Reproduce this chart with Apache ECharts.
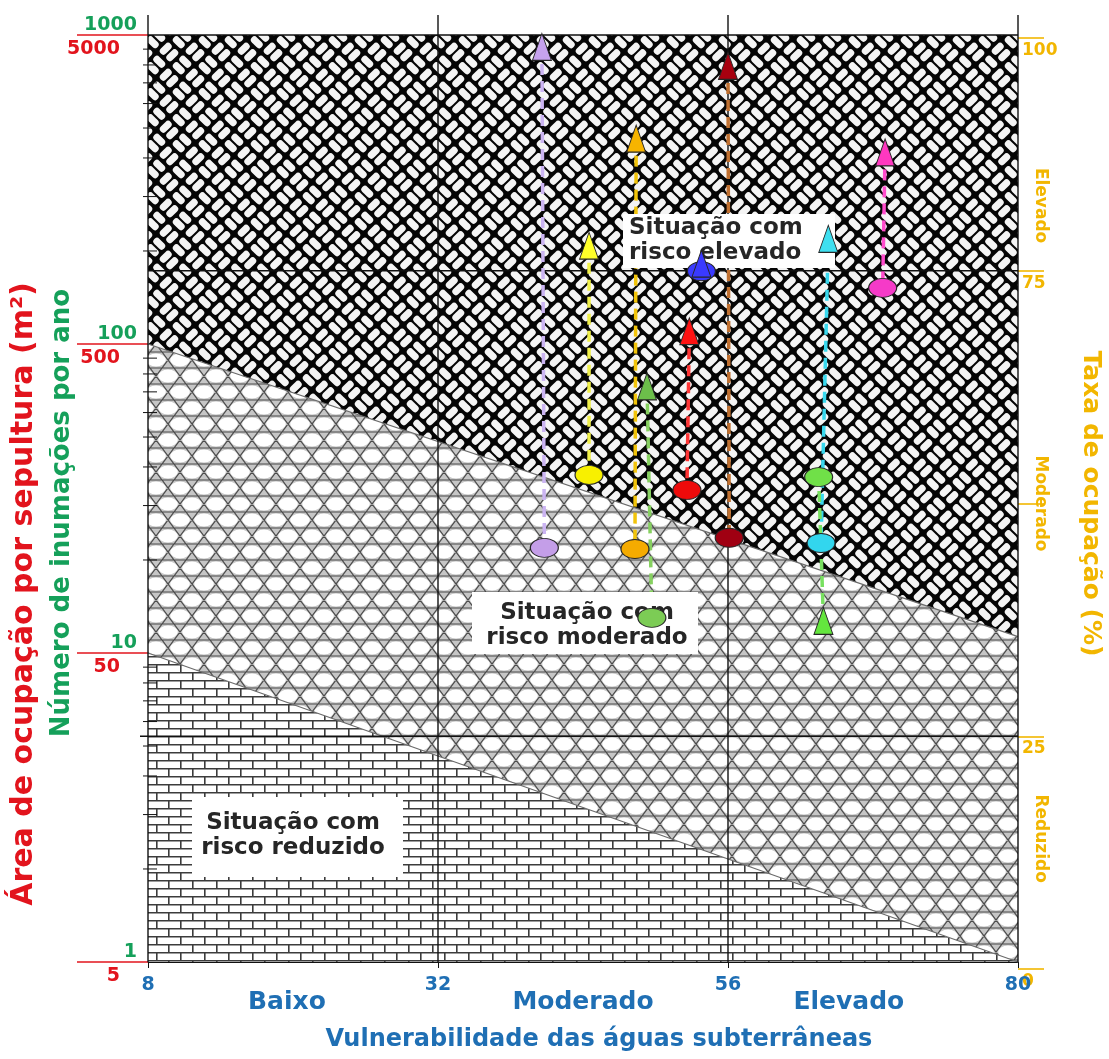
<!DOCTYPE html>
<html lang="pt">
<head>
<meta charset="utf-8">
<title>Risco de contaminação das águas subterrâneas</title>
<script src="https://cdn.jsdelivr.net/npm/echarts@6.0.0/dist/echarts.min.js"></script>
<style>
  html, body { margin: 0; padding: 0; background: #ffffff; }
  #chart { width: 1109px; height: 1059px; }
</style>
</head>
<body>
<div id="chart"></div>
<script>
// ---- Axes -------------------------------------------------------------
const vulnTicks = [8, 32, 56, 80];
const vulnClassNames = ['Baixo', 'Moderado', 'Elevado'];
const vulnClassPos = [19.5, 44, 66];

const inumacoesTicks = [1, 10, 100, 1000];
const areaTicks = [5, 50, 500, 5000];
const minorSteps = [2, 3, 4, 5, 6, 7, 8, 9];

const taxaTicks = [0, 25, 50, 75, 100];
const taxaLabelValues = [0, 25, 75, 100];
const taxaClassNames = ['Reduzido', 'Moderado', 'Elevado'];
const taxaClassPos = [14, 50, 82];
const taxaLimits = [25, 75];

// ---- Risk zone limits (value at vulnerability 8 and at 80) ------------
const upperLimit = [100, 11.3];
const lowerLimit = [10, 1];

// ---- Cemeteries: triangle / ellipse pairs -----------------------------
const triangleX = [40.6, 44.5, 48.4, 49.3, 52.8, 53.8, 56.0, 64.3, 63.9, 69.0];
const triangleY = [915, 208, 462, 72.9, 110, 182, 794, 219, 12.7, 417];
const ellipseX  = [40.8, 44.5, 48.3, 49.7, 52.6, 53.8, 56.1, 63.7, 63.5, 68.8];
const ellipseY  = [21.9, 37.7, 21.7, 13.0, 33.7, 172, 23.6, 22.7, 37.1, 152];

const triangleColors = ['#c6a2ee', '#ffff2a', '#f7b400', '#6cbf4a', '#ff1212', '#3a3aff', '#a8000f', '#3edff0', '#64e63e', '#ff38c0'];
const ellipseColors  = ['#c49ee8', '#f8f000', '#f5ab00', '#7ccc55', '#ee0a0a', '#3a3aff', '#a00012', '#32d6ee', '#70e048', '#f53ac8'];
const linkColors     = ['#cbb4f2', '#f0f04a', '#f2c40a', '#86d060', '#ff3535', '#3a3aff', '#c07030', '#38d8ee', '#78e060', '#ff4ccc'];

// ---- Colours / fonts --------------------------------------------------
const blue = '#1f6fb4', red = '#e2141d', green = '#15a05a', gold = '#f2b600';
const fontFamily = '"DejaVu Sans", Verdana, sans-serif';

// ---- Fill textures ----------------------------------------------------
function tile(w, h, paint) {
  const c = document.createElement('canvas');
  c.width = w; c.height = h;
  paint(c.getContext('2d'), w, h);
  return c;
}

// basket weave (high risk)
const weaveTile = tile(52, 52, (ctx, w, h) => {
  ctx.fillStyle = '#050505';
  ctx.fillRect(0, 0, w, h);
  ctx.save();
  ctx.rotate(Math.PI / 4);
  const P = 13 * Math.SQRT2;
  const t = P / 2 - 2.0, L = P - 4.6;
  ctx.fillStyle = '#f4f4f4';
  for (let i = -4; i <= 8; i++) {
    for (let j = -6; j <= 6; j++) {
      const u = i * P, v = j * P;
      const along = ((i + j) % 2 + 2) % 2 === 0;
      for (let k = 0; k < 2; k++) {
        ctx.beginPath();
        if (along) ctx.roundRect(u + 2.3, v + 1.0 + k * P / 2, L, t, t / 2);
        else ctx.roundRect(u + 1.0 + k * P / 2, v + 2.3, t, L, t / 2);
        ctx.fill();
      }
    }
  }
  ctx.restore();
});

// hexagonal mesh of rounded cells (moderate risk)
const meshTile = tile(24, 32, (ctx, w, h) => {
  ctx.fillStyle = '#c6c6c6';
  ctx.fillRect(0, 0, w, h);
  ctx.fillStyle = '#ffffff';
  [[12, 8], [0, 24], [24, 24]].forEach(([cx, cy]) => {
    ctx.beginPath();
    ctx.ellipse(cx, cy, 9.8, 6.5, 0, 0, Math.PI * 2);
    ctx.fill();
  });
  ctx.strokeStyle = '#4a4a4a';
  ctx.lineWidth = 1.2;
  ctx.beginPath();
  [0, 16, 32].forEach(y => { ctx.moveTo(0, y); ctx.lineTo(w, y); });
  for (let m = -2; m <= 3; m++) {
    const x0 = m * 24;
    ctx.moveTo(x0 - 6, 0); ctx.lineTo(x0 + 18, 32);
    ctx.moveTo(x0 + 6, 0); ctx.lineTo(x0 - 18, 32);
  }
  ctx.stroke();
});

// horizontal brick (low risk)
const brickTile = tile(24, 16, (ctx, w, h) => {
  ctx.fillStyle = '#ffffff';
  ctx.fillRect(0, 0, w, h);
  ctx.strokeStyle = '#3c3c3c';
  ctx.lineWidth = 1.6;
  ctx.beginPath();
  ctx.moveTo(0, 0.8); ctx.lineTo(w, 0.8);
  ctx.moveTo(0, 8.8); ctx.lineTo(w, 8.8);
  ctx.moveTo(0.8, 0); ctx.lineTo(0.8, 8);
  ctx.moveTo(12.8, 8); ctx.lineTo(12.8, 16);
  ctx.stroke();
});

const pickName = (names, pos) => v => {
  const i = pos.findIndex(p => Math.abs(p - v) < 1e-6);
  return i < 0 ? '' : names[i];
};

const xMin = vulnTicks[0], xMax = vulnTicks[vulnTicks.length - 1];
const yMin = inumacoesTicks[0], yMax = inumacoesTicks[inumacoesTicks.length - 1];

const chart = echarts.init(document.getElementById('chart'), null, { renderer: 'canvas' });

const option = {
  animation: false,
  backgroundColor: '#ffffff',
  grid: [
    { left: 148, right: 91, top: 35, bottom: 97, containLabel: false, outerBoundsMode: 'none' },
    { left: 148, right: 91, top: 38, bottom: 90, containLabel: false, outerBoundsMode: 'none' }
  ],
  xAxis: [
    {
      gridIndex: 0, type: 'value', min: xMin, max: xMax, position: 'bottom',
      axisLine: { show: true, lineStyle: { color: '#111', width: 1.2 } },
      axisTick: { show: true, customValues: vulnTicks, length: 6, lineStyle: { color: '#111' } },
      axisLabel: { customValues: vulnTicks, color: blue, fontSize: 19, fontWeight: 'bold', fontFamily, margin: 14 },
      splitLine: { show: false },
      name: 'Vulnerabilidade das águas subterrâneas', nameLocation: 'middle', nameGap: 66,
      nameMoveOverlap: false,
      nameTextStyle: { color: blue, fontSize: 24, fontWeight: 'bold', fontFamily, padding: [0, 0, 0, 32] }
    },
    {
      gridIndex: 0, type: 'value', min: xMin, max: xMax, position: 'bottom',
      axisLine: { show: false }, axisTick: { show: false }, splitLine: { show: false },
      axisLabel: {
        customValues: vulnClassPos, formatter: pickName(vulnClassNames, vulnClassPos),
        color: blue, fontSize: 25, fontWeight: 'bold', fontFamily, margin: 28
      }
    },
    { gridIndex: 1, type: 'value', min: xMin, max: xMax, show: false }
  ],
  yAxis: [
    {
      gridIndex: 0, type: 'log', logBase: 10, min: yMin, max: yMax, position: 'left',
      axisLine: { show: false }, axisTick: { show: false }, splitLine: { show: false },
      axisLabel: {
        customValues: inumacoesTicks, formatter: v => String(Math.round(v)),
        color: green, fontSize: 19, fontWeight: 'bold', fontFamily, margin: 11, verticalAlign: 'bottom'
      }
    },
    {
      gridIndex: 0, type: 'log', logBase: 10, min: areaTicks[0], max: areaTicks[areaTicks.length - 1], position: 'left',
      axisLine: { show: false }, splitLine: { show: false },
      axisTick: { show: true, customValues: areaTicks, length: 71, lineStyle: { color: red, width: 1.6 } },
      axisLabel: {
        customValues: areaTicks, formatter: v => String(Math.round(v)),
        color: red, fontSize: 19, fontWeight: 'bold', fontFamily, margin: 28, verticalAlign: 'top', padding: [5, 0, 0, 0]
      }
    },
    {
      gridIndex: 1, type: 'value', min: 0, max: 100, position: 'right',
      axisLine: { show: false }, splitLine: { show: false },
      axisTick: { show: true, customValues: taxaTicks, length: 26, lineStyle: { color: gold, width: 1.6 } },
      axisLabel: {
        customValues: taxaLabelValues, color: gold, fontSize: 17, fontWeight: 'bold', fontFamily,
        margin: 4, verticalAlign: 'top', padding: [4, 0, 0, 0]
      },
      name: 'Taxa de ocupação (%)', nameLocation: 'middle', nameRotate: -90, nameGap: 60,
      nameMoveOverlap: false,
      nameTextStyle: { color: gold, fontSize: 25, fontWeight: 'bold', fontFamily }
    },
    {
      gridIndex: 1, type: 'value', min: 0, max: 100, position: 'right',
      axisLine: { show: false }, axisTick: { show: false }, splitLine: { show: false },
      axisLabel: {
        customValues: taxaClassPos, formatter: pickName(taxaClassNames, taxaClassPos), rotate: -90,
        color: gold, fontSize: 17, fontWeight: 'bold', fontFamily, margin: 14
      }
    }
  ],
  graphic: [
    // axis titles on the left
    {
      type: 'text', x: 24, y: 594, rotation: Math.PI / 2, z: 5,
      style: { text: 'Área de ocupação por sepultura (m²)', fill: red, fontSize: 30, fontWeight: 'bold', fontFamily, align: 'center', verticalAlign: 'middle' }
    },
    {
      type: 'text', x: 62, y: 513, rotation: Math.PI / 2, z: 5,
      style: { text: 'Número de inumações por ano', fill: green, fontSize: 26, fontWeight: 'bold', fontFamily, align: 'center', verticalAlign: 'middle' }
    },
    // zone captions
    { type: 'rect', z: 3, shape: { x: 623, y: 214, width: 212, height: 54 }, style: { fill: '#ffffff' } },
    {
      type: 'text', z: 3, x: 629, y: 241,
      style: { text: 'Situação com\nrisco elevado', fill: '#262626', fontSize: 23, fontWeight: 'bold', fontFamily, lineHeight: 25, align: 'left', verticalAlign: 'middle' }
    },
    { type: 'rect', z: 3, shape: { x: 472, y: 592, width: 226, height: 62 }, style: { fill: '#ffffff' } },
    {
      type: 'text', z: 3, x: 587, y: 626,
      style: { text: 'Situação com\nrisco moderado', fill: '#262626', fontSize: 23, fontWeight: 'bold', fontFamily, lineHeight: 25, align: 'center', verticalAlign: 'middle' }
    },
    { type: 'rect', z: 3, shape: { x: 192, y: 797, width: 211, height: 80 }, style: { fill: '#ffffff' } },
    {
      type: 'text', z: 3, x: 293, y: 836,
      style: { text: 'Situação com\nrisco reduzido', fill: '#262626', fontSize: 23, fontWeight: 'bold', fontFamily, lineHeight: 25, align: 'center', verticalAlign: 'middle' }
    }
  ],
  series: [
    // risk zones
    {
      type: 'custom', xAxisIndex: 0, yAxisIndex: 0, z: 1, silent: true,
      data: [[xMin, yMin]],
      renderItem: (params, api) => {
        const P = (x, y) => api.coord([x, y]);
        const low = [P(xMin, yMin), P(xMin, lowerLimit[0]), P(xMax, lowerLimit[1]), P(xMax, yMin)];
        const mid = [P(xMin, lowerLimit[0]), P(xMin, upperLimit[0]), P(xMax, upperLimit[1]), P(xMax, lowerLimit[1])];
        const high = [P(xMin, upperLimit[0]), P(xMin, yMax), P(xMax, yMax), P(xMax, upperLimit[1])];
        const edge = (a, b) => ({ type: 'line', shape: { x1: a[0], y1: a[1], x2: b[0], y2: b[1] }, style: { stroke: '#6a6a6a', lineWidth: 1.2 } });
        return {
          type: 'group',
          children: [
            { type: 'polygon', shape: { points: low }, style: { fill: { image: brickTile, repeat: 'repeat' } } },
            { type: 'polygon', shape: { points: mid }, style: { fill: { image: meshTile, repeat: 'repeat' } } },
            { type: 'polygon', shape: { points: high }, style: { fill: { image: weaveTile, repeat: 'repeat' } } },
            edge(P(xMin, lowerLimit[0]), P(xMax, lowerLimit[1])),
            edge(P(xMin, upperLimit[0]), P(xMax, upperLimit[1]))
          ]
        };
      }
    },
    // frame: vertical class limits, top border, minor log ticks
    {
      type: 'custom', xAxisIndex: 0, yAxisIndex: 0, z: 2, silent: true,
      data: [[xMin, yMin]],
      renderItem: (params, api) => {
        const children = [];
        const ln = (x1, y1, x2, y2, w) => ({ type: 'line', shape: { x1, y1, x2, y2 }, style: { stroke: '#111', lineWidth: w } });
        vulnTicks.forEach(x => {
          const b = api.coord([x, yMin]), t = api.coord([x, yMax]);
          children.push(ln(b[0], b[1], t[0], t[1] - 20, 1.4));
        });
        const tl = api.coord([xMin, yMax]), tr = api.coord([xMax, yMax]);
        children.push(ln(tl[0], tl[1], tr[0], tr[1], 1.6));
        inumacoesTicks.slice(0, -1).forEach(d => {
          minorSteps.forEach(m => {
            const p = api.coord([xMin, d * m]);
            children.push(ln(p[0] - 5, p[1], p[0] + 9, p[1], 1));
          });
        });
        return { type: 'group', children };
      }
    },
    // occupancy-rate limits (25 % and 75 %)
    {
      type: 'custom', xAxisIndex: 2, yAxisIndex: 2, z: 2, silent: true,
      data: taxaLimits.map(v => [xMin, v]),
      renderItem: (params, api) => {
        const v = api.value(1);
        const a = api.coord([xMin, v]), b = api.coord([xMax, v]);
        const ext = v === taxaLimits[0] ? 8 : 0;
        return { type: 'line', shape: { x1: a[0] - ext, y1: a[1], x2: b[0], y2: b[1] }, style: { stroke: '#111', lineWidth: 1.6 } };
      }
    },
    // dashed links between each pair
    {
      type: 'custom', xAxisIndex: 0, yAxisIndex: 0, z: 2, silent: true,
      data: triangleX.map((x, i) => [x, triangleY[i], ellipseX[i], ellipseY[i]]),
      renderItem: (params, api) => {
        const a = api.coord([api.value(0), api.value(1)]);
        const b = api.coord([api.value(2), api.value(3)]);
        return {
          type: 'line', shape: { x1: a[0], y1: a[1], x2: b[0], y2: b[1] },
          style: { stroke: linkColors[params.dataIndex], lineWidth: 3.5, lineDash: [11, 6] }
        };
      }
    },
    {
      type: 'scatter', name: 'elipses', xAxisIndex: 0, yAxisIndex: 0, z: 4,
      symbol: 'circle', symbolSize: [28, 19],
      data: ellipseX.map((x, i) => [x, ellipseY[i]]),
      itemStyle: { color: p => ellipseColors[p.dataIndex], borderColor: '#262626', borderWidth: 1, opacity: 1 }
    },
    {
      type: 'scatter', name: 'triângulos', xAxisIndex: 0, yAxisIndex: 0, z: 5,
      symbol: 'triangle', symbolSize: [19, 27],
      data: triangleX.map((x, i) => [x, triangleY[i]]),
      itemStyle: { color: p => triangleColors[p.dataIndex], borderColor: '#262626', borderWidth: 1, opacity: 1 }
    }
  ]
};

chart.setOption(option);
</script>
</body>
</html>
